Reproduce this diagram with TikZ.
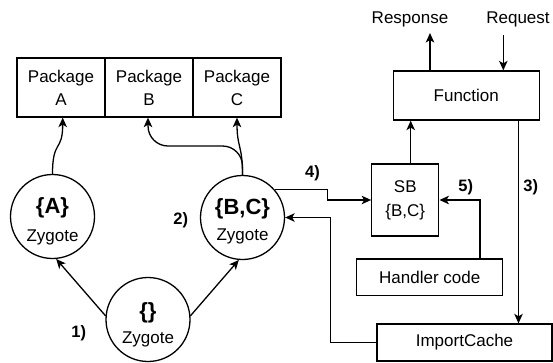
\documentclass[tikz,border=0pt]{standalone}
\usepackage{fontspec}
\setmainfont{Liberation Sans}
\usetikzlibrary{arrows.meta}
\begin{document}
\begin{tikzpicture}[x=1pt,y=-1pt,
  line width=1.3pt,
  >={Stealth[length=9.5pt,width=8.5pt,inset=2.5pt]},
  box/.style={draw, rectangle, inner sep=0pt, align=center,
              font=\fontsize{17}{23}\selectfont},
  zyg/.style={draw, circle, minimum size=84pt, inner sep=0pt},
  txt/.style={inner sep=0pt, font=\fontsize{17}{20}\selectfont},
  settxt/.style={inner sep=0pt, font=\fontsize{22}{24}\bfseries\selectfont},
  numlabel/.style={inner sep=0pt, font=\fontsize{16.5}{18}\bfseries\selectfont},
]
\useasboundingbox (0,0) rectangle (553,362);

% package row
\node[box, minimum width=88pt, minimum height=59pt] (pA) at (61,87.5)  {Package\\A};
\node[box, minimum width=88pt, minimum height=59pt] (pB) at (149,87.5) {Package\\B};
\node[box, minimum width=88pt, minimum height=59pt] (pC) at (237,87.5) {Package\\C};

% zygotes
\node[zyg] (zA)  at (52.5,216.5) {};
\node[zyg] (zBC) at (242.5,217.5) {};
\node[zyg] (z0)  at (148,319.5) {};
\node[settxt] (tA1)  at (52.5,207.5) {\{A\}};
\node[txt]    (tA2)  at (52.5,237)   {Zygote};
\node[settxt] (tBC1) at (242.5,209)  {\{B,C\}};
\node[txt]    (tBC2) at (242.5,236.5) {Zygote};
\node[settxt] (t01)  at (148,313)    {\{\}};
\node[txt]    (t02)  at (148,339)    {Zygote};

% function side
\node[box, minimum width=146pt, minimum height=49pt] (fn) at (466.3,95.5) {Function};
\node[box, minimum width=67pt, minimum height=72pt, font=\fontsize{17}{24}\selectfont]
  (sb) at (405.3,200) {SB\\\{B,C\}};
\node[box, minimum width=146pt, minimum height=36.5pt] (hc) at (429.7,277.3) {Handler code};
\node[box, minimum width=175pt, minimum height=37pt] (ic) at (464.5,342.5) {ImportCache};
\node[txt] (resp) at (410,19) {Response};
\node[txt] (req)  at (518,19) {Request};

% step labels
\node[numlabel] (n1) at (78.8,333)  {1)};
\node[numlabel] (n2) at (180.8,220) {2)};
\node[numlabel] (n3) at (530.8,187.5) {3)};
\node[numlabel] (n4) at (312.5,173.3) {4)};
\node[numlabel] (n5) at (465.8,187.5) {5)};

% routing columns
\coordinate (respTip) at (430,33);
\coordinate (reqTail) at (503.3,35);
\coordinate (k4) at (327.3,0);
\coordinate (k3) at (330.5,0);
\coordinate (k5) at (518.5,0);
\coordinate (k6) at (410.7,0);
\coordinate (k7) at (480,0);
\coordinate (kB) at (0,146);
\coordinate (pBin) at ([xshift=-1pt]pB.south);

% zygote forks
\draw[->] (z0.175) -- (zA.275);
\draw[->] (z0.5) -- (zBC.265);

% zygotes load packages
\draw[->] (zA.north) .. controls +(0,-35) and +(0,35) .. ([xshift=1.7pt]pA.south);
\draw[->] (zBC.north) .. controls +(0,-30) and +(0,30) .. (pC.south);
\draw[->, rounded corners=20pt] (zBC.north) |- (kB -| pBin) -- (pBin);

% request / response
\draw[->] ([xshift=-36.3pt]fn.north) -- (respTip);
\draw[->] (reqTail) -- (reqTail |- fn.north);

% sandbox and cache flow
\draw[->] (sb.north -| k6) -- (fn.south -| k6);
\draw[->] (fn.south -| k5) -- (ic.north -| k5);
\draw[->] (zBC.41) -- (zBC.41 -| k4) -- (k4 |- sb.west) -- (sb.west);
\draw[->] (hc.north -| k7) |- (sb.east);
\draw[->] (ic.west) -- (ic.west -| k3) -- (k3 |- zBC.east) -- (zBC.east);
\end{tikzpicture}
\end{document}
